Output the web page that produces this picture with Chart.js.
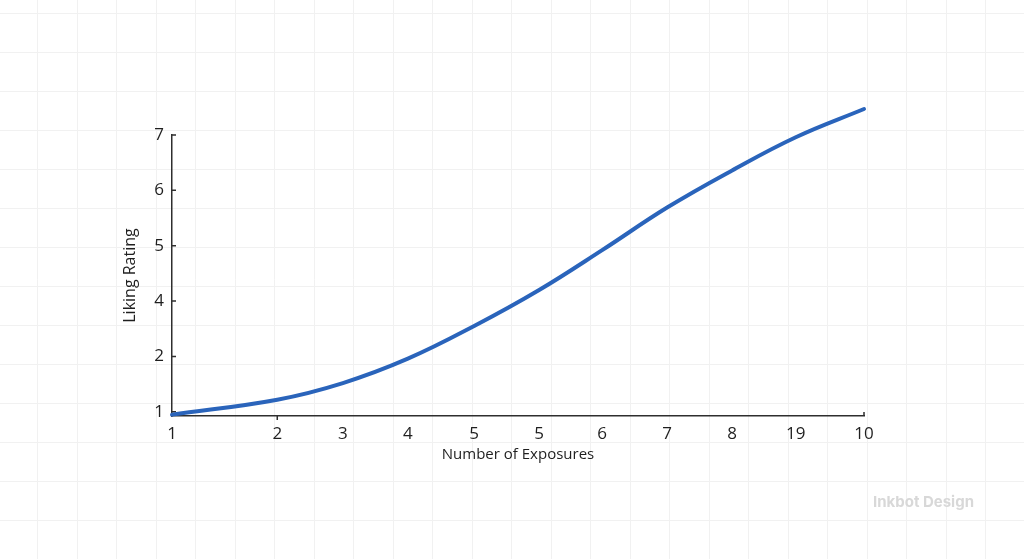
<!DOCTYPE html>
<html>
<head>
<meta charset="utf-8">
<script src="https://cdn.jsdelivr.net/npm/chart.js@4"></script>
<style>
    html, body { margin: 0; padding: 0; background: #fff; }
    #wrap { position: relative; width: 1024px; height: 559px; }
    #brand {
        position: absolute;
        left: 873px;
        top: 492px;
        font: 700 15px Inter, "Open Sans", sans-serif;
        color: #d8d8d8;
    }
</style>
</head>
<body>
<div id="wrap">
    <canvas id="chart" width="1024" height="559"></canvas>
    <div id="brand">Inkbot Design</div>
</div>
<script>
// tick positions on the x scale and the labels printed under them
const xTickValues = [0, 1.62, 2.63, 3.63, 4.65, 5.65, 6.62, 7.62, 8.62, 9.6, 10.65]
const xTickLabels = ["1", "2", "3", "4", "5", "5", "6", "7", "8", "19", "10"]

const yTickValues = [0, 1, 2, 3, 4, 5]
const yTickLabels = ["1", "2", "4", "5", "6", "7"]

// liking rating at each exposure tick
const likingRating = [-0.05, 0.22, 0.52, 0.96, 1.55, 2.2, 2.92, 3.69, 4.36, 4.96, 5.47]

const points = xTickValues.map((x, i) => ({ x: x, y: likingRating[i] }))

const axisColor = "#2e2e2e"
const textColor = "#1f1f1f"

const paperGrid = {
    id: "paperGrid",
    beforeDraw(chart) {
        const ctx = chart.ctx
        ctx.save()
        ctx.fillStyle = "#fff"
        ctx.fillRect(0, 0, chart.width, chart.height)
        ctx.strokeStyle = "#f1f1f1"
        ctx.lineWidth = 1
        ctx.beginPath()
        for (let x = 37; x < chart.width; x += 39.5) {
            ctx.moveTo(Math.round(x) + 0.5, 0)
            ctx.lineTo(Math.round(x) + 0.5, chart.height)
        }
        for (let y = 13; y < chart.height; y += 39) {
            ctx.moveTo(0, Math.round(y) + 0.5)
            ctx.lineTo(chart.width, Math.round(y) + 0.5)
        }
        ctx.stroke()
        ctx.restore()
    },
}

const tickMarks = {
    id: "tickMarks",
    beforeDatasetsDraw(chart) {
        const { ctx, chartArea, scales } = chart
        ctx.save()
        ctx.strokeStyle = axisColor
        ctx.lineWidth = 1.5
        ctx.beginPath()
        yTickValues.forEach((v) => {
            const y = scales.y.getPixelForValue(v)
            ctx.moveTo(chartArea.left, y)
            ctx.lineTo(chartArea.left + 4, y)
        })
        const x2 = scales.x.getPixelForValue(xTickValues[1])
        ctx.moveTo(x2, chartArea.bottom)
        ctx.lineTo(x2, chartArea.bottom + 4)
        const xEnd = scales.x.getPixelForValue(xTickValues[xTickValues.length - 1])
        ctx.moveTo(xEnd, chartArea.bottom)
        ctx.lineTo(xEnd, chartArea.bottom - 4)
        ctx.stroke()
        ctx.restore()
    },
}

new Chart(document.getElementById("chart"), {
    type: "line",
    data: {
        datasets: [
            {
                data: points,
                borderColor: "#2a64bb",
                borderWidth: 4,
                borderCapStyle: "round",
                pointRadius: 0,
                tension: 0.4,
                clip: false,
                fill: false,
            },
        ],
    },
    options: {
        responsive: false,
        animation: false,
        layout: {
            padding: { left: 100, right: 160, top: 135, bottom: 93 },
        },
        plugins: {
            legend: { display: false },
            tooltip: { enabled: false },
        },
        scales: {
            x: {
                type: "linear",
                min: 0,
                max: 10.65,
                afterBuildTicks(scale) {
                    scale.ticks = xTickValues.map((v) => ({ value: v }))
                },
                afterFit(scale) {
                    scale.height = 50
                },
                grid: { display: false, drawTicks: false },
                border: { color: axisColor, width: 1.5 },
                ticks: {
                    autoSkip: false,
                    maxRotation: 0,
                    padding: 8,
                    color: textColor,
                    font: { family: "'Open Sans', sans-serif", size: 17 },
                    callback(value, index) {
                        return xTickLabels[index]
                    },
                },
                title: {
                    display: true,
                    text: "Number of Exposures",
                    color: textColor,
                    font: { family: "'Open Sans', sans-serif", size: 15 },
                    padding: { top: 0, bottom: 2 },
                },
            },
            y: {
                type: "linear",
                min: -0.075,
                max: 5,
                afterBuildTicks(scale) {
                    scale.ticks = yTickValues.map((v) => ({ value: v }))
                },
                afterFit(scale) {
                    scale.width = 72
                },
                grid: { display: false, drawTicks: false },
                border: { color: axisColor, width: 1.5 },
                ticks: {
                    padding: 8,
                    color: textColor,
                    font: { family: "'Open Sans', sans-serif", size: 17 },
                    callback(value, index) {
                        return yTickLabels[index]
                    },
                },
                title: {
                    display: true,
                    text: "Liking Rating",
                    color: textColor,
                    font: { family: "'Open Sans', sans-serif", size: 16 },
                    padding: { top: 21, bottom: 0 },
                },
            },
        },
    },
    plugins: [paperGrid, tickMarks],
})
</script>
</body>
</html>
